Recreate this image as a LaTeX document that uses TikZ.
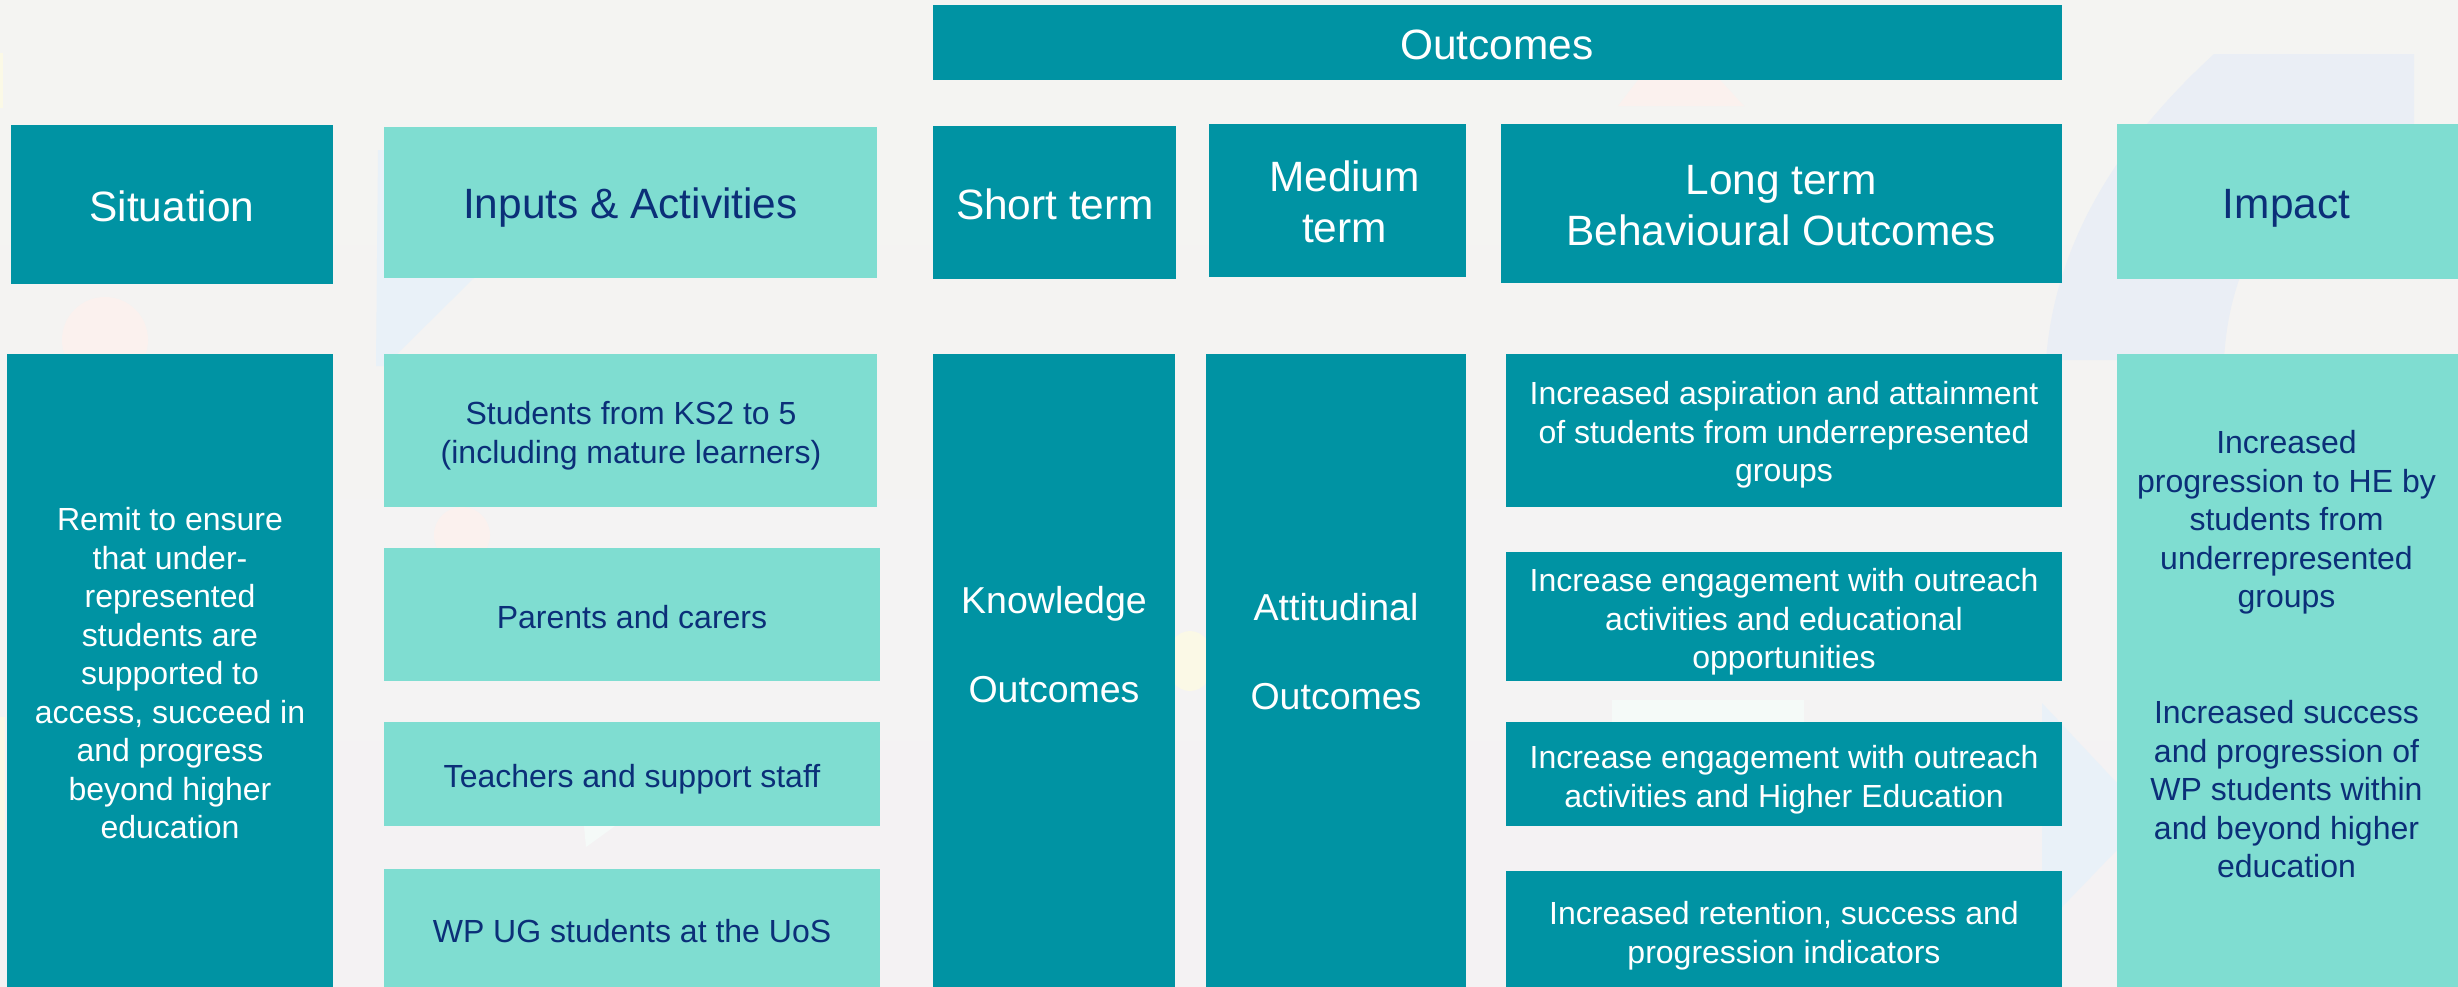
\documentclass[tikz,border=0pt]{standalone}
\usepackage{fontspec}
\setmainfont{Liberation Sans}
\definecolor{tealbox}{HTML}{0093A3}
\definecolor{mintbox}{HTML}{7FDDD1}
\definecolor{navytxt}{HTML}{0B2F78}
\definecolor{bgtop}{HTML}{F4F4F2}
\definecolor{bgbot}{HTML}{F4F2F3}
\definecolor{fpink}{HTML}{FBF1EE}
\definecolor{fblue}{HTML}{EAEEF5}
\definecolor{fsky}{HTML}{E9F1F8}
\definecolor{fyellow}{HTML}{FBF9E6}
\definecolor{fwhite}{HTML}{F5FAF8}
\tikzset{
  tbox/.style={fill=tealbox,inner sep=0pt,outer sep=0pt,yshift=-0.1pt},
  mbox/.style={fill=mintbox,inner sep=0pt,outer sep=0pt,yshift=-0.1pt},
  txt/.style={anchor=base,inner sep=0pt,outer sep=0pt,yshift=-1.5pt},
  wh/.style={txt,text=white},
  nv/.style={txt,text=navytxt},
  head/.style={font=\fontsize{42.4}{50.5}\selectfont},
  mid/.style={font=\fontsize{37.5}{89}\selectfont},
  bod/.style={font=\fontsize{32}{38.5}\selectfont},
}
\newcommand{\bx}[6]{\node[#6,minimum width={(#4-#2)*1pt},minimum height={(#5-#3)*1pt}] (#1) at ({(#2+#4)/2},{(#3+#5)/2}) {};}
\newcommand{\lns}[1]{\begin{tabular}[t]{@{}c@{}}#1\end{tabular}}
\begin{document}
\begin{tikzpicture}[x=1pt,y=-1pt]
\useasboundingbox (0,0) rectangle (2458,986);
\fill[top color=bgtop,bottom color=bgbot] (-2,-2) rectangle (2462,990);
% faint background decoration
\fill[fpink] (105,340) ellipse (43 and 43);
\fill[fpink] (462,535) ellipse (28 and 28);
\fill[fpink] (1618,106) -- (1744,106) -- (1720,80) -- (1638,80) -- cycle;
\fill[fsky] (378,150) -- (384,150) -- (474,278) -- (385,366) -- (376,366) -- cycle;
\fill[fblue] (2414,54) -- (2214,54) .. controls (2120,140) and (2055,240) .. (2046,360) -- (2224,360) .. controls (2230,240) and (2300,150) .. (2414,150) -- cycle;
\fill[fsky] (2042,703) -- (2117,783) -- (2117,850) -- (2062,907) -- (2042,907) -- cycle;
\fill[fyellow] (1190,661) ellipse (24 and 30);
\fill[fyellow] (0,53) rectangle (3,108);
\fill[fyellow] (0,717) rectangle (5,830);
\fill[fwhite] (1612,700) rectangle (1804,722);
\fill[fwhite] (584,826) -- (615,826) -- (586,847) -- cycle;
% header row
\bx{outcomes}{933}{5}{2062}{80}{tbox}
\bx{situation}{11}{125}{333}{284}{tbox}
\bx{inputs}{384}{127}{877}{278}{mbox}
\bx{short}{933}{126}{1176}{279}{tbox}
\bx{medium}{1209}{124}{1466}{277}{tbox}
\bx{long}{1501}{124}{2062}{283}{tbox}
\bx{impact}{2116.5}{124}{2462}{279}{mbox}
% body row
\bx{remit}{7}{354}{333}{992}{tbox}
\bx{students}{384}{354}{877}{507}{mbox}
\bx{parents}{384}{548}{880}{681}{mbox}
\bx{teachers}{384}{722}{880}{826}{mbox}
\bx{wp}{384}{869}{880}{992}{mbox}
\bx{know}{933}{354}{1175}{992}{tbox}
\bx{att}{1206}{354}{1466}{992}{tbox}
\bx{lta}{1506}{354}{2062}{507}{tbox}
\bx{ltb}{1506}{552}{2062}{681}{tbox}
\bx{ltc}{1506}{722}{2062}{826}{tbox}
\bx{ltd}{1506}{871}{2062}{992}{tbox}
\bx{impbody}{2116.5}{354}{2462}{992}{mbox}
% header text
\node[wh,head] (toutcomes) at (1497,58) {\lns{Outcomes}};
\node[wh,head] (tsituation) at (172,220) {\lns{Situation}};
\node[nv,head] (tinputs) at (630.5,217) {\lns{Inputs \& Activities}};
\node[wh,head] (tshort) at (1055,218) {\lns{Short term}};
\node[wh,head] (tmedium) at (1344.5,190) {\lns{Medium\\term}};
\node[wh,head] (tlong) at (1781,193) {\lns{Long term\\Behavioural Outcomes}};
\node[nv,head] (timpact) at (2286.5,217) {\lns{Impact}};
% body text
\node[wh,bod] (tremit) at (170,529) {\lns{Remit to ensure\\that under-\\represented\\students are\\supported to\\access, succeed in\\and progress\\beyond higher\\education}};
\node[nv,bod] (tstudents) at (631,423) {\lns{Students from KS2 to 5\\(including mature learners)}};
\node[nv,bod] (tparents) at (632,627) {\lns{Parents and carers}};
\node[nv,bod] (tteachers) at (632,786) {\lns{Teachers and support staff}};
\node[nv,bod] (twp) at (632,941) {\lns{WP UG students at the UoS}};
\node[wh,mid] (tknow) at (1054,612) {\lns{Knowledge\\Outcomes}};
\node[wh,mid] (tatt) at (1336,619) {\lns{Attitudinal\\Outcomes}};
\node[wh,bod] (tlta) at (1784,403) {\lns{Increased aspiration and attainment\\of students from underrepresented\\groups}};
\node[wh,bod] (tltb) at (1784,590) {\lns{Increase engagement with outreach\\activities and educational\\opportunities}};
\node[wh,bod] (tltc) at (1784,767) {\lns{Increase engagement with outreach\\activities and Higher Education}};
\node[wh,bod] (tltd) at (1784,923) {\lns{Increased retention, success and\\progression indicators}};
\node[nv,bod] (timpa) at (2286.5,452) {\lns{Increased\\progression to HE by\\students from\\underrepresented\\groups}};
\node[nv,bod] (timpb) at (2286.5,722) {\lns{Increased success\\and progression of\\WP students within\\and beyond higher\\education}};
\end{tikzpicture}
\end{document}
